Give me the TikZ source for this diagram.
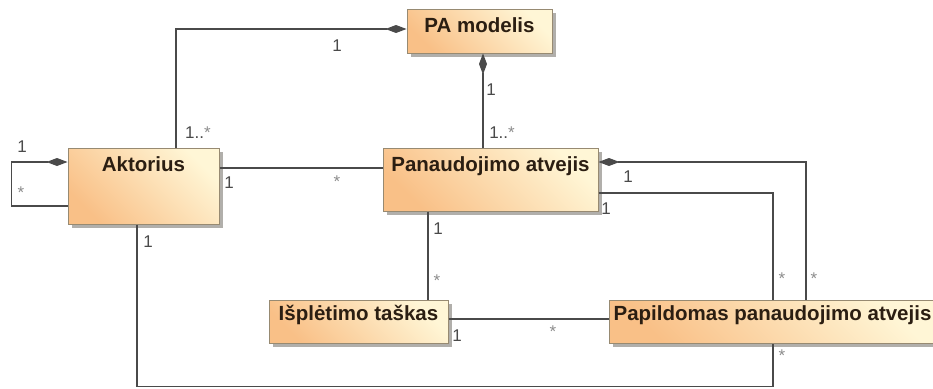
\documentclass[tikz,border=0pt]{standalone}
\usepackage{fontspec}
\setmainfont{Liberation Sans}
\usetikzlibrary{arrows.meta,shadows}

\definecolor{boxorange}{HTML}{F9C087}
\definecolor{boxcream}{HTML}{FFF6D6}
\definecolor{boxborder}{HTML}{978A72}
\definecolor{linecol}{HTML}{4A4A4A}
\definecolor{textcol}{HTML}{2B1E12}
\definecolor{starcol}{HTML}{8C8C8C}
\definecolor{shadowcol}{HTML}{A8A6A2}

\newcommand{\mstar}{\textcolor{starcol}{*}}

\begin{document}
\begin{tikzpicture}[x=1pt,y=-1pt,
  cls/.style={draw=boxborder, line width=1pt, inner sep=0pt,
    top color=boxcream, bottom color=boxorange, shading angle=-45,
    drop shadow={shadow xshift=3.5pt, shadow yshift=-3.5pt, fill=shadowcol, opacity=0.9}},
  title/.style={anchor=base, text=textcol, font=\fontsize{20.5}{24}\selectfont\bfseries},
  assoc/.style={draw=linecol, line width=1.4pt},
  comp/.style={assoc, -{Diamond[length=21pt,width=8pt]}},
  mult/.style={text=linecol, inner sep=0pt, font=\fontsize{17}{20}\selectfont}
]
\useasboundingbox (0,0) rectangle (933,388);

% class boxes
\node[cls, minimum width=145pt, minimum height=44pt] (pa)  at (479.5,31)  {};
\node[cls, minimum width=151pt, minimum height=76pt] (akt) at (143.5,186) {};
\node[cls, minimum width=215pt, minimum height=63pt] (pan) at (490.5,179.5) {};
\node[cls, minimum width=179pt, minimum height=43pt] (isp) at (358.5,321.5) {};
\node[cls, minimum width=327pt, minimum height=43pt] (pap) at (772.5,321.5) {};

% class names
\node[title] (pa-t)  at ([yshift=-24pt]pa.north)  {PA modelis};
\node[title] (akt-t) at ([yshift=-24pt]akt.north) {Aktorius};
\node[title] (pan-t) at ([yshift=-24pt]pan.north) {Panaudojimo atvejis};
\node[title] (isp-t) at ([yshift=-21pt]isp.north) {Išplėtimo taškas};
\node[title] (pap-t) at ([yshift=-21pt]pap.north) {Papildomas panaudojimo atvejis};

% composition: Aktorius -> PA modelis
\draw[comp] ([xshift=32.5pt]akt.north) |- ([yshift=2pt]pa.west);
% composition: Panaudojimo atvejis -> PA modelis
\draw[comp] ([xshift=3.5pt]pan.north -| pa.south) -- ([xshift=3.5pt]pa.south);
% self composition on Aktorius
\draw[comp] ([yshift=-20pt]akt.west) -- ++(-56pt,0pt) |- ([yshift=24pt]akt.west);
% Aktorius -- Panaudojimo atvejis
\draw[assoc] ([yshift=18pt]akt.east) -- ([yshift=18pt]akt.east -| pan.west);
% Panaudojimo atvejis -- Išplėtimo taškas
\draw[assoc] ([xshift=-62.5pt]pan.south) -- ([xshift=-62.5pt]pan.south |- isp.north);
% composition: Papildomas -> Panaudojimo atvejis
\draw[comp] ([xshift=33.5pt]pap.north) |- ([yshift=17.5pt]pan.east);
% Panaudojimo atvejis -- Papildomas
\draw[assoc] ([yshift=-13.5pt]pan.east) -| ([xshift=0.5pt]pap.north);
% Išplėtimo taškas -- Papildomas
\draw[assoc] ([yshift=2.5pt]isp.east) -- ([yshift=2.5pt]isp.east -| pap.west);
% Aktorius -- Papildomas
\draw[assoc] ([xshift=-6.5pt]akt.south) -- ++(0pt,-162pt) -| ([xshift=0.5pt]pap.south);

% multiplicities
\node[mult] (m1)  at (337,46)  {1};
\node[mult] (m2)  at (198,133) {1..\mstar};
\node[mult] (m3)  at (491,90)  {1};
\node[mult] (m4)  at (502,133) {1..\mstar};
\node[mult] (m5)  at (22,147)  {1};
\node[mult] (m6)  at (21,193)  {\mstar};
\node[mult] (m7)  at (229,183) {1};
\node[mult] (m8)  at (337,182) {\mstar};
\node[mult] (m9)  at (438,229) {1};
\node[mult] (m10) at (437,281) {\mstar};
\node[mult] (m11) at (628,177) {1};
\node[mult] (m12) at (606,209) {1};
\node[mult] (m13) at (782,279) {\mstar};
\node[mult] (m14) at (814,279) {\mstar};
\node[mult] (m15) at (457,336) {1};
\node[mult] (m16) at (553,332) {\mstar};
\node[mult] (m17) at (148,242) {1};
\node[mult] (m18) at (782,356) {\mstar};
\end{tikzpicture}
\end{document}
